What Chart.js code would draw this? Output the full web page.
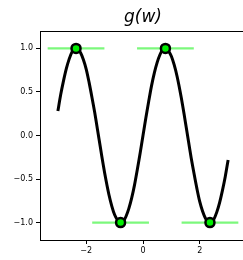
<!DOCTYPE html>
<html>
<head>
<meta charset="utf-8">
<script src="https://cdn.jsdelivr.net/npm/chart.js@4"></script>
<style>
  html, body { margin: 0; padding: 0; background: #fff; overflow: hidden; }
  #wrap { width: 243px; height: 260px; overflow: hidden; }
</style>
</head>
<body>
<div id="wrap"><canvas id="gChart" width="246" height="260"></canvas></div>
<script>
// curve g(w)
const wValues = [-3.0, -2.9, -2.8, -2.7, -2.6, -2.5, -2.4, -2.3, -2.2, -2.1, -2.0,
  -1.9, -1.8, -1.7, -1.6, -1.5, -1.4, -1.3, -1.2, -1.1, -1.0,
  -0.9, -0.8, -0.7, -0.6, -0.5, -0.4, -0.3, -0.2, -0.1, 0.0,
  0.1, 0.2, 0.3, 0.4, 0.5, 0.6, 0.7, 0.8, 0.9, 1.0,
  1.1, 1.2, 1.3, 1.4, 1.5, 1.6, 1.7, 1.8, 1.9, 2.0,
  2.1, 2.2, 2.3, 2.4, 2.5, 2.6, 2.7, 2.8, 2.9, 3.0];
const gValues = [0.28, 0.47, 0.63, 0.77, 0.88, 0.96, 1.0, 0.99, 0.95, 0.87, 0.76,
  0.61, 0.44, 0.26, 0.06, -0.14, -0.34, -0.52, -0.68, -0.81, -0.91,
  -0.97, -1.0, -0.99, -0.93, -0.84, -0.72, -0.57, -0.39, -0.2, 0.0,
  0.2, 0.39, 0.57, 0.72, 0.84, 0.93, 0.99, 1.0, 0.97, 0.91,
  0.81, 0.68, 0.52, 0.34, 0.14, -0.06, -0.26, -0.44, -0.61, -0.76,
  -0.87, -0.95, -0.99, -1.0, -0.96, -0.88, -0.77, -0.63, -0.47, -0.28];

// stationary points and their flat tangent lines
const statW = [-2.36, -0.79, 0.79, 2.36];
const statG = [1.0, -1.0, 1.0, -1.0];
const tangentHalf = 1.0;

const xTicks = [-2, 0, 2];
const yTicks = [-1.0, -0.5, 0.0, 0.5, 1.0];

const fmt = (v, d) => (v < 0 ? '\u2212' : '') + Math.abs(v).toFixed(d);

const curve = wValues.map((w, i) => ({ x: w, y: gValues[i] }));
const points = statW.map((w, i) => ({ x: w, y: statG[i] }));

const tangentSets = statW.map((w, i) => ({
  data: [{ x: w - tangentHalf, y: statG[i] }, { x: w + tangentHalf, y: statG[i] }],
  borderColor: '#7cf87c',
  borderWidth: 2.2,
  pointRadius: 0,
  tension: 0,
  order: 3
}));

// draw title and top spine by hand
const extras = {
  id: 'extras',
  afterDraw(chart) {
    const { ctx, chartArea } = chart;
    ctx.save();
    ctx.strokeStyle = '#000';
    ctx.lineWidth = 1;
    ctx.beginPath();
    ctx.moveTo(chartArea.left, chartArea.top + 0.5);
    ctx.lineTo(chartArea.right, chartArea.top + 0.5);
    ctx.stroke();
    ctx.fillStyle = '#000';
    ctx.font = 'italic 17px "DejaVu Sans"';
    ctx.textAlign = 'center';
    ctx.textBaseline = 'alphabetic';
    ctx.fillText('g(w)', (chartArea.left + chartArea.right) / 2, 22);
    ctx.restore();
  }
};

new Chart(document.getElementById('gChart').getContext('2d'), {
  type: 'line',
  data: {
    datasets: [
      {
        data: points,
        showLine: false,
        pointRadius: 4.5,
        pointBorderWidth: 2.5,
        pointBackgroundColor: '#00ee00',
        pointBorderColor: '#000',
        order: 1
      },
      {
        data: curve,
        borderColor: '#000',
        borderWidth: 3,
        pointRadius: 0,
        tension: 0.3,
        order: 2
      },
      ...tangentSets
    ]
  },
  options: {
    responsive: false,
    animation: false,
    layout: { autoPadding: false, padding: { top: 31, right: 0, left: 0, bottom: 0 } },
    plugins: { legend: { display: false }, tooltip: { enabled: false }, title: { display: false } },
    scales: {
      x: {
        type: 'linear',
        min: -3.63,
        max: 3.63,
        afterBuildTicks: s => { s.ticks = xTicks.map(v => ({ value: v })); },
        afterFit: s => { s.height = 20; },
        grid: { drawOnChartArea: false, drawTicks: true, tickLength: 4, color: '#000' },
        border: { display: true, color: '#000', width: 1 },
        ticks: {
          color: '#000',
          padding: 2,
          maxRotation: 0,
          font: { family: 'DejaVu Sans', size: 8 },
          callback: v => fmt(v, 0)
        }
      },
      y: {
        min: -1.2,
        max: 1.2,
        afterBuildTicks: s => { s.ticks = yTicks.map(v => ({ value: v })); },
        afterFit: s => { s.width = 40; },
        grid: { drawOnChartArea: false, drawTicks: true, tickLength: 4, color: '#000' },
        border: { display: true, color: '#000', width: 1 },
        ticks: {
          color: '#000',
          padding: 3,
          font: { family: 'DejaVu Sans', size: 8 },
          callback: v => fmt(v, 1)
        }
      }
    }
  },
  plugins: [extras]
});
</script>
</body>
</html>
